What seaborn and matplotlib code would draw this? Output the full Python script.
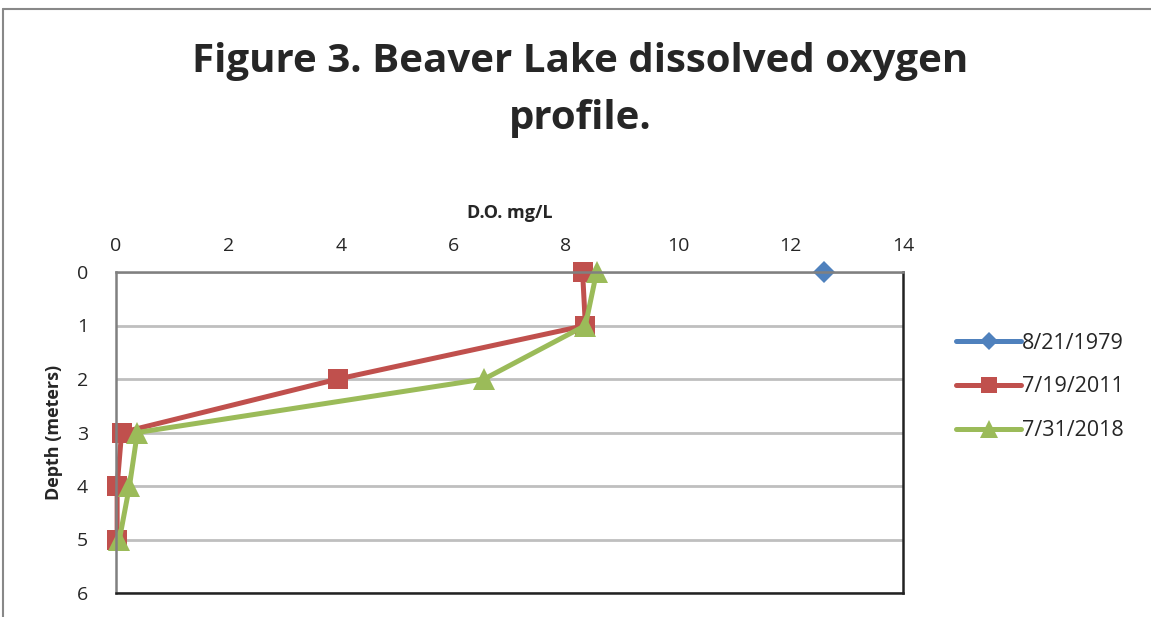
import pandas as pd
import matplotlib.pyplot as plt
import seaborn as sns
from matplotlib.lines import Line2D

# --- Data ---
DATES = ["8/21/1979", "7/19/2011", "7/31/2018"]
DEPTH_1979 = [0]
DO_1979 = [12.6]
DEPTH_2011 = [0, 1, 2, 3, 4, 5]
DO_2011 = [8.3, 8.35, 3.95, 0.1, 0.02, 0.02]
DEPTH_2018 = [0, 1, 2, 3, 4, 5]
DO_2018 = [8.55, 8.35, 6.55, 0.38, 0.24, 0.06]

COLORS = ["#4F81BD", "#C0504D", "#9BBB59"]
MARKERS = ["D", "s", "^"]
MARKER_SIZES = [11, 14, 16]


def build_frame():
    rows = []
    for date, depths, vals in zip(DATES, [DEPTH_1979, DEPTH_2011, DEPTH_2018],
                                  [DO_1979, DO_2011, DO_2018]):
        for d, v in zip(depths, vals):
            rows.append({"date": date, "depth": d, "do": v})
    return pd.DataFrame(rows)


def main():
    sns.set_style("white")
    plt.rcParams['font.family'] = ['Open Sans', 'DejaVu Sans']

    df = build_frame()
    fig = plt.figure(figsize=(11.51, 6.17), dpi=100)
    ax = fig.add_axes([116 / 1151, 1 - 593 / 617, (903 - 116) / 1151, (593 - 272) / 617])

    # profile: depth is the independent variable, so no aggregation along x
    sns.lineplot(data=df, x="do", y="depth", hue="date", style="date",
                 hue_order=DATES, style_order=DATES, orient="y", estimator=None,
                 palette=COLORS, markers=MARKERS, dashes=False, sort=False,
                 linewidth=3.6, markersize=12, markeredgewidth=0, ax=ax,
                 legend=False)
    for line, ms in zip(ax.lines, MARKER_SIZES):
        line.set_clip_on(False)
        line.set_markersize(ms)

    ax.set_xlim(0, 14)
    ax.set_ylim(6, 0)
    ax.set_xticks(range(0, 15, 2))
    ax.set_yticks(range(0, 7))
    ax.xaxis.tick_top()
    ax.xaxis.set_label_position('top')
    ax.tick_params(axis='both', labelsize=14, length=0)
    ax.tick_params(axis='x', pad=12)
    ax.tick_params(axis='y', pad=20)
    ax.grid(axis='y', color='#BFBFBF', linewidth=2)
    ax.set_axisbelow(True)
    for side, spine in ax.spines.items():
        spine.set_visible(True)
        spine.set_color('#808080' if side in ('top', 'left') else '#222222')
        spine.set_linewidth(1.8)

    ax.set_xlabel("D.O. mg/L", fontsize=13, fontweight='bold', labelpad=14)
    ax.set_ylabel("Depth (meters)", fontsize=13, fontweight='bold', labelpad=10)

    fig.suptitle("Figure 3. Beaver Lake dissolved oxygen\nprofile.", x=580 / 1151,
                 y=1 - 42 / 617, fontsize=29, fontweight='bold', linespacing=1.6)

    handles = [Line2D([], [], color=c, marker=m, linewidth=3.6,
                      markersize=ms * 0.85, markeredgewidth=0)
               for c, m, ms in zip(COLORS, MARKERS, MARKER_SIZES)]
    fig.legend(handles, DATES, loc='center left', bbox_to_anchor=(937 / 1151, 1 - 387 / 617),
               frameon=False, fontsize=15.5, handlelength=3.0, handletextpad=0.05,
               labelspacing=1.05)

    # outer chart border
    fig.add_artist(Line2D([3 / 1151, 1], [1 - 9 / 617, 1 - 9 / 617], color='#888888', linewidth=1.5))
    fig.add_artist(Line2D([3 / 1151, 3 / 1151], [0, 1 - 9 / 617], color='#888888', linewidth=1.5))

    fig.savefig("out.png", dpi=100)
    plt.close(fig)


if __name__ == "__main__":
    main()
